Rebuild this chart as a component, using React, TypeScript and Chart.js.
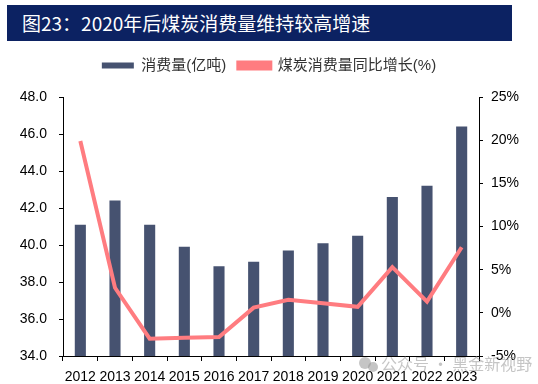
import React, { useEffect, useRef } from "react";
import { Chart, registerables } from "chart.js";

Chart.register(...registerables);

const years = ["2012","2013","2014","2015","2016","2017","2018","2019","2020","2021","2022","2023"];
const consumption = [41.1, 42.4, 41.1, 39.9, 38.85, 39.1, 39.7, 40.1, 40.5, 42.6, 43.2, 46.4];
const growth = [19.9, 2.9, -3.0, -2.9, -2.8, 0.6, 1.5, 1.1, 0.7, 5.3, 1.3, 7.6];
const leftTicks = [34, 36, 38, 40, 42, 44, 46, 48];
const rightTicks = [-5, 0, 5, 10, 15, 20, 25];

const FONT = "'Liberation Sans', Arial, 'Noto Sans CJK SC', sans-serif";

const legendSpacer = {
  id: "legendSpacer",
  beforeLayout(chart: any) {
    const lg = chart.legend;
    if (lg && !lg._spacerPatched) {
      const fit = lg.fit.bind(lg);
      lg.fit = function () {
        fit();
        this.height += 14;
      };
      lg._spacerPatched = true;
    }
  },
};

const watermark = {
  id: "watermark",
  afterDraw(chart: any) {
    const ctx = chart.ctx;
    ctx.save();
    ctx.fillStyle = "rgba(150,150,150,0.55)";
    ctx.beginPath();
    ctx.arc(365, 363, 6, 0, Math.PI * 2);
    ctx.fill();
    ctx.beginPath();
    ctx.arc(373, 367, 5, 0, Math.PI * 2);
    ctx.fill();
    ctx.font = "16px 'Noto Sans CJK SC', sans-serif";
    ctx.textBaseline = "middle";
    ctx.fillText("公众号 · 黑金新视野", 381, 364);
    ctx.restore();
  },
};

export default function App() {
  const ref = useRef<HTMLCanvasElement>(null);
  useEffect(() => {
    if (!ref.current) return;
    const chart = new Chart(ref.current, {
      data: {
        labels: years,
        datasets: [
          {
            type: "line",
            label: "煤炭消费量同比增长(%)",
            data: growth,
            yAxisID: "y1",
            borderColor: "#ff7c80",
            backgroundColor: "#ff7c80",
            borderWidth: 4,
            pointRadius: 0,
            tension: 0,
            order: 0,
          },
          {
            type: "bar",
            label: "消费量(亿吨)",
            data: consumption,
            yAxisID: "y",
            backgroundColor: "#465270",
            barPercentage: 0.32,
            categoryPercentage: 1,
            order: 1,
          },
        ],
      } as any,
      options: {
        animation: false,
        responsive: false,
        maintainAspectRatio: false,
        layout: { padding: { top: 46, left: 0, right: 0, bottom: 0 } },
        plugins: {
          tooltip: { enabled: false },
          legend: {
            display: true,
            position: "top",
            reverse: true,
            labels: {
              boxWidth: 32,
              boxHeight: 6,
              color: "#333",
              font: { family: FONT, size: 15 },
              padding: 12,
            },
          },
        },
        scales: {
          x: {
            offset: true,
            afterFit(s: any) { s.height = 28; },
            grid: { display: true, drawOnChartArea: false, offset: true, tickLength: 5, color: "#000", tickColor: "#000" },
            border: { color: "#000", width: 1 },
            ticks: { color: "#000", font: { family: FONT, size: 14 }, autoSkip: false, maxRotation: 0, padding: 8 },
          },
          y: {
            position: "left",
            min: 34,
            max: 48,
            afterFit(s: any) { s.width = 63; },
            afterBuildTicks(s: any) { s.ticks = leftTicks.map((v) => ({ value: v })); },
            grid: { drawOnChartArea: false, tickLength: 4, tickColor: "#000" },
            border: { color: "#000", width: 1 },
            ticks: {
              color: "#000",
              font: { family: FONT, size: 14 },
              padding: 12,
              callback: (v: any) => Number(v).toFixed(1),
            },
          },
          y1: {
            position: "right",
            min: -5,
            max: 25,
            afterFit(s: any) { s.width = 59; },
            afterBuildTicks(s: any) { s.ticks = rightTicks.map((v) => ({ value: v })); },
            grid: { drawOnChartArea: false, tickLength: 4, tickColor: "#000" },
            border: { color: "#000", width: 1 },
            ticks: {
              color: "#000",
              font: { family: FONT, size: 14 },
              padding: 8,
              callback: (v: any) => `${v}%`,
            },
          },
        },
      } as any,
      plugins: [legendSpacer, watermark],
    });
    return () => chart.destroy();
  }, []);

  return (
    <div style={{ position: "absolute", left: 0, top: 0, width: 538, height: 384, background: "#fff" }}>
      <canvas ref={ref} width={538} height={384} style={{ position: "absolute", left: 0, top: 0 }} />
      <div
        style={{
          position: "absolute",
          left: 7,
          top: 5,
          width: 505,
          height: 36,
          background: "#0c2262",
          color: "#fff",
          fontFamily: "'Noto Sans CJK SC', sans-serif",
          fontSize: 19,
          lineHeight: "36px",
          paddingLeft: 15,
          boxSizing: "border-box",
          whiteSpace: "nowrap",
        }}
      >
        图23：2020年后煤炭消费量维持较高增速
      </div>
    </div>
  );
}
